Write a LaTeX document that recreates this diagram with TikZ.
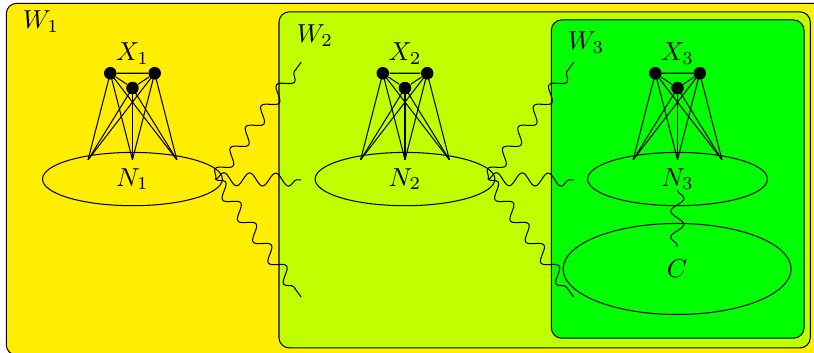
\documentclass[tikz,border=0pt]{standalone}
\usetikzlibrary{shapes.geometric,decorations.pathmorphing}
\definecolor{wone}{RGB}{255,238,0}
\definecolor{wtwo}{RGB}{191,255,0}
\definecolor{wthree}{RGB}{0,255,0}
\begin{document}
\begin{tikzpicture}[
	vert/.style={circle,fill=black,inner sep=0pt,minimum size=0.17cm},
	blob/.style={ellipse,draw,inner sep=0pt,minimum width=2.43cm,minimum height=0.72cm},
	wiggle/.style={decorate,decoration=snake}]
%
	\useasboundingbox (0,0) rectangle (11,4.77);
	\clip (0,0) rectangle (11,4.77);
%
	\draw[rounded corners,fill=wone] (0.085,-0.03) rectangle (11.2,4.725);
	\draw[rounded corners,fill=wtwo] (3.77,0.068) rectangle (10.95,4.61);
	\draw[rounded corners,fill=wthree] (7.45,0.2) rectangle (10.865,4.5);
	\node (w1) at (0.554,4.473) {$W_1$};
	\node (w2) at (4.257,4.284) {$W_2$};
	\node (w3) at (7.92,4.2) {$W_3$};
%
	\foreach \i [evaluate=\i as \x using {1.79+(\i-1)*3.683}] in {1,2,3} {
		\node[vert] (a\i) at (\x-0.3,3.78) {};
		\node[vert] (b\i) at (\x+0.3,3.78) {};
		\node[vert] (c\i) at (\x,3.58) {};
		\node (x\i) at (\x,4.05) {$X_\i$};
		\node[blob] (N\i) at (\x,2.35) {$N_\i$};
		\coordinate (p\i) at (\x-0.6,2.61);
		\coordinate (q\i) at (\x,2.61);
		\coordinate (r\i) at (\x+0.6,2.61);
		\draw (a\i) -- (b\i) -- (c\i) -- (a\i);
		\foreach \u in {a,b,c}
			\foreach \v in {p,q,r}
				\draw (\u\i.center) -- (\v\i);
		\ifnum\i<3
			\coordinate (u\i) at (\x+2.28,3.93);
			\coordinate (m\i) at (\x+2.28,2.34);
			\coordinate (l\i) at (\x+2.28,0.755);
			\draw[wiggle] ([xshift=-1mm]N\i.east) -- (u\i);
			\draw[wiggle] ([xshift=-1mm]N\i.east) -- (m\i);
			\draw[wiggle] ([xshift=-1mm]N\i.east) -- (l\i);
		\fi
	}
%
	\node[blob,minimum width=3.08cm,minimum height=1.23cm] (C) at (9.15,1.135) {$C$};
	\draw[wiggle] ([yshift=-1.5mm]N3.center) -- ([yshift=3mm]C.center);
\end{tikzpicture}
\end{document}
